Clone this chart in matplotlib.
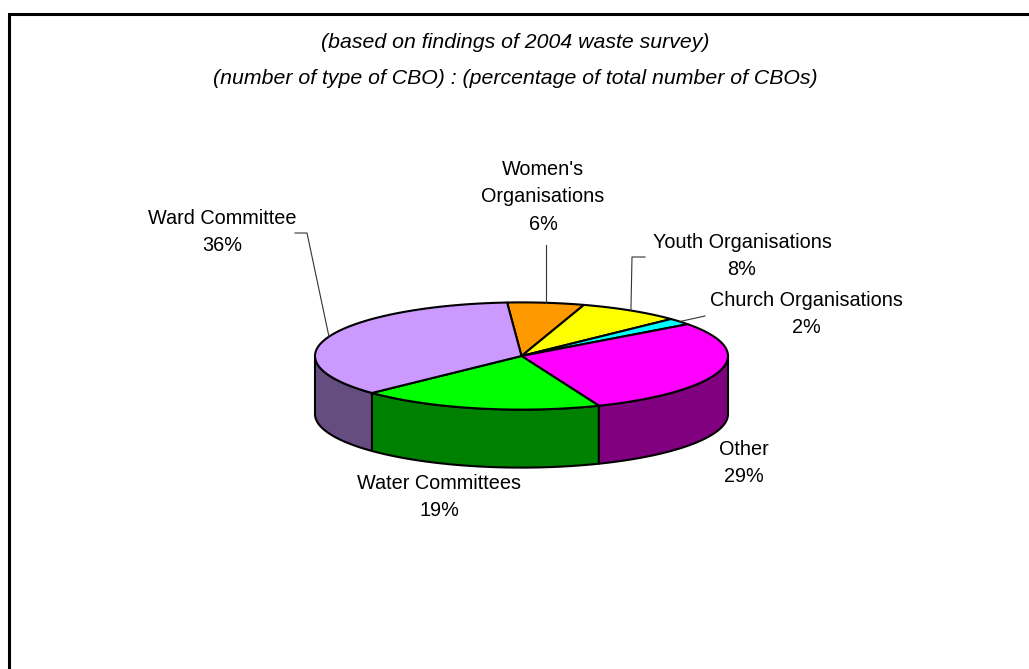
import numpy as np
import matplotlib
matplotlib.use("Agg")
from matplotlib import pyplot as plt
from matplotlib.patches import Polygon

plt.rcParams['font.family'] = ['Liberation Sans', 'DejaVu Sans']

# CBO types, clockwise from the top of the pie
names = ['Women\'s\nOrganisations', 'Youth Organisations', 'Church Organisations',
         'Other', 'Water Committees', 'Ward Committee']
shares = [6, 8, 2, 29, 19, 36]
top_colors = ['#FF9900', '#FFFF00', '#00FFFF', '#FF00FF', '#00FF00', '#CC99FF']
side_colors = ['#804C00', '#808000', '#008080', '#800080', '#008000', '#664D80']

# pie geometry in pixel units
cx, cy = 521.5, 356.0
rx, ry = 206.5, 53.6
depth = 58.0
first_angle = -4.0

# label centres and leader elbows (None = no leader)
label_pos = [(543, 197), (742, 256), (806, 314), (744, 463), (439, 497), (222, 232)]
leaders = [[(None, 245)], [(632, 257), (645, 257)], [(705, 316)], None, None,
           [(307, 233), (295, 233)]]

fig = plt.figure(figsize=(10.29, 6.69), dpi=100)
ax = fig.add_axes([0, 0, 1, 1])
ax.set_xlim(0, 1029)
ax.set_ylim(669, 0)
ax.axis('off')


def rim(t0, t1, dy=0.0, n=120):
    t = np.radians(np.linspace(t0, t1, n))
    return np.column_stack([cx + rx * np.sin(t), cy - ry * np.cos(t) + dy])


edges = first_angle + 360.0 * np.concatenate([[0], np.cumsum(shares)]) / sum(shares)

# outer walls, only the front half shows
for i in range(len(shares)):
    lo, hi = max(edges[i], 90), min(edges[i + 1], 270)
    if hi > lo:
        pts = np.vstack([rim(lo, hi), rim(hi, lo, depth)])
        ax.add_patch(Polygon(pts, closed=True, facecolor=side_colors[i],
                             edgecolor='black', lw=1.5, joinstyle='round', zorder=1))

# top faces
for i in range(len(shares)):
    pts = np.vstack([[cx, cy], rim(edges[i], edges[i + 1])])
    ax.add_patch(Polygon(pts, closed=True, facecolor=top_colors[i],
                         edgecolor='black', lw=1.5, joinstyle='round', zorder=2))

# labels and leader lines
for i, name in enumerate(names):
    mid = np.radians((edges[i] + edges[i + 1]) / 2)
    ax_, ay_ = cx + rx * np.sin(mid), cy - ry * np.cos(mid)
    if leaders[i] is not None:
        xs, ys = [ax_], [ay_]
        for px, py in leaders[i]:
            xs.append(ax_ if px is None else px)
            ys.append(py)
        ax.plot(xs, ys, color='#333333', lw=0.8, zorder=3)
    ax.text(label_pos[i][0], label_pos[i][1], f'{name}\n{shares[i]}%',
            ha='center', va='center', fontsize=14.3, linespacing=1.55, zorder=4)

ax.text(515, 42, '(based on findings of 2004 waste survey)', ha='center', va='center',
        fontsize=15.3, style='italic')
ax.text(515, 78, '(number of type of CBO) : (percentage of total number of CBOs)',
        ha='center', va='center', fontsize=15.3, style='italic')

# chart area border
ax.plot([8.5, 8.5, 1040], [700, 13.5, 13.5], color='black', lw=2.2,
        solid_joinstyle='miter', clip_on=False)

fig.savefig('out.png', dpi=100)
